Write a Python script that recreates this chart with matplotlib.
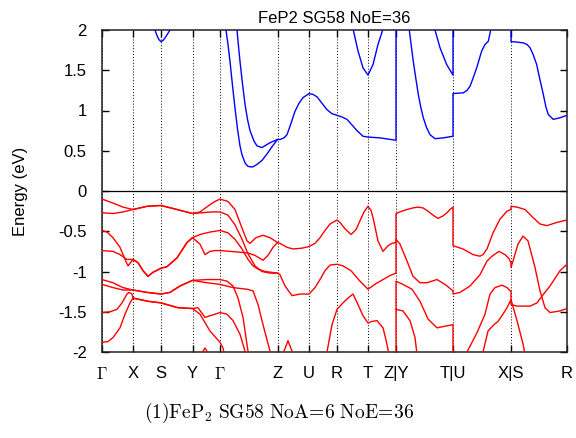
import matplotlib
matplotlib.use("Agg")
import matplotlib.pyplot as plt

plt.rcParams['mathtext.fontset'] = 'cm'
plt.rcParams['font.family'] = ['Liberation Sans', 'DejaVu Sans']

# high-symmetry positions (path coordinate) and labels
kpts = [0, 31, 59, 90.5, 118, 175.5, 207, 235, 266, 294, 351, 409, 465]
klabels = [r'$\Gamma$', 'X', 'S', 'Y', r'$\Gamma$', 'Z', 'U', 'R', 'T', 'Z|Y', 'T|U', 'X|S', 'R']
yticks = [2, 1.5, 1, 0.5, 0, -0.5, -1, -1.5, -2]
ylabels = ['2', '1.5', '1', '0.5', '0', '-0.5', '-1', '-1.5', '-2']

# ---- valence bands (red) ----
v1_k = [0, 11, 21, 31, 45, 59, 75, 90.5, 98, 108, 113, 118, 126, 133, 140, 145, 148, 154, 161, 168, 175.5,
        178, 185, 191, 200, 207, 213, 218, 223, 228, 235, 238, 243, 249, 254, 258, 262, 266, 269, 271, 276, 281, 286, 290, 294,
        294, 300, 305, 311, 316, 321, 326, 331, 336, 341, 345, 348, 351,
        351, 361, 371, 378, 381, 385, 391, 398, 405, 409,
        409, 415, 423, 431, 438, 445, 455, 465]
v1_e = [-0.10, -0.15, -0.20, -0.23, -0.19, -0.18, -0.23, -0.28, -0.26, -0.17, -0.13, -0.10, -0.13, -0.23, -0.46, -0.62, -0.65, -0.58, -0.55, -0.58, -0.64,
        -0.65, -0.70, -0.72, -0.71, -0.69, -0.65, -0.58, -0.49, -0.41, -0.36, -0.39, -0.47, -0.54, -0.48, -0.37, -0.26, -0.19, -0.24, -0.33, -0.62, -0.75, -0.68, -0.65, -0.64,
        -0.28, -0.25, -0.23, -0.21, -0.20, -0.21, -0.25, -0.30, -0.34, -0.31, -0.27, -0.23, -0.20,
        -0.68, -0.72, -0.79, -0.81, -0.79, -0.72, -0.52, -0.35, -0.25, -0.23,
        -0.19, -0.20, -0.23, -0.33, -0.41, -0.43, -0.39, -0.36]

v2_k = [0, 11, 21, 31, 45, 59, 75, 90.5, 100, 110, 118, 126, 133, 140, 146, 153, 160, 168, 175.5,
        178, 183, 190, 198, 207, 213, 218, 223, 228, 235, 241, 249, 258, 266, 274, 281, 288, 294,
        294, 298, 305, 311, 318, 325, 335, 343, 351,
        351, 358, 368, 378, 385, 390, 397, 403, 407, 409,
        409, 411, 416, 421, 426, 433, 438, 443, 448, 458, 465]
v2_e = [-0.27, -0.28, -0.26, -0.23, -0.19, -0.18, -0.23, -0.28, -0.27, -0.26, -0.26, -0.30, -0.42, -0.60, -0.78, -0.93, -1.00, -1.02, -1.02,
        -1.04, -1.18, -1.30, -1.28, -1.28, -1.20, -1.10, -0.99, -0.92, -0.91, -0.93, -0.99, -1.12, -1.22, -1.15, -1.10, -1.05, -1.02,
        -0.60, -0.66, -0.87, -1.06, -1.14, -1.14, -1.10, -1.16, -1.24,
        -1.28, -1.26, -1.18, -1.04, -0.87, -0.81, -0.75, -0.79, -0.84, -0.89,
        -0.95, -0.87, -0.66, -0.56, -0.62, -0.95, -1.24, -1.45, -1.51, -1.49, -1.46]

v3_k = [0, 5, 11, 18, 23, 26, 31, 36, 41, 46, 51, 59, 65, 75, 85, 90.5, 98, 108, 118,
        126, 133, 140, 146, 151, 156, 163, 175.5]
v3_e = [-0.49, -0.51, -0.58, -0.70, -0.85, -0.93, -0.85, -0.89, -0.99, -1.06, -1.01, -0.96, -0.94, -0.83, -0.64, -0.58, -0.54, -0.51, -0.49,
        -0.52, -0.60, -0.72, -0.85, -0.93, -0.97, -1.00, -1.02]

v4_k = [0, 11, 18, 25, 31, 36, 41, 46, 51, 59, 65, 75, 85, 90.5, 98, 103, 108, 113, 118,
        128, 138, 146, 153, 161, 166, 171, 175.5]
v4_e = [-0.74, -0.75, -0.79, -0.85, -0.85, -0.89, -0.99, -1.06, -1.01, -0.96, -0.94, -0.83, -0.64, -0.58, -0.66, -0.79, -0.75, -0.74, -0.74,
        -0.75, -0.76, -0.77, -0.80, -0.86, -0.80, -0.70, -0.64]

v5_k = [0, 11, 21, 31, 45, 59, 68, 78, 90.5, 105, 118, 125, 131, 136, 141, 146, 148]
v5_e = [-1.10, -1.14, -1.20, -1.23, -1.26, -1.28, -1.26, -1.18, -1.11, -1.10, -1.10, -1.12, -1.18, -1.33, -1.57, -1.99, -2.15]

v6_k = [0, 11, 21, 31, 45, 59, 68, 78, 90.5, 105, 118, 131, 145, 151, 156, 161, 168, 170]
v6_e = [-1.16, -1.20, -1.23, -1.23, -1.26, -1.28, -1.26, -1.18, -1.11, -1.14, -1.16, -1.20, -1.22, -1.24, -1.41, -1.66, -1.99, -2.15]

v7_k = [0, 8, 15, 20, 25, 27, 30, 31, 46, 59, 76, 90.5, 96, 103, 108, 118, 125, 131, 138, 143, 145]
v7_e = [-1.51, -1.50, -1.47, -1.39, -1.28, -1.26, -1.28, -1.33, -1.37, -1.39, -1.45, -1.46, -1.45, -1.57, -1.55, -1.51, -1.53, -1.61, -1.78, -1.99, -2.15]

v8_k = [0, 6, 11, 18, 23, 28, 31, 46, 59, 76, 90.5, 98, 108, 118, 121, 124]
v8_e = [-1.88, -1.87, -1.82, -1.70, -1.53, -1.39, -1.33, -1.37, -1.39, -1.45, -1.46, -1.53, -1.74, -1.88, -1.95, -2.15]

hump1_k = [99.5, 101, 103, 105, 106.5]
hump1_e = [-2.15, -1.99, -1.95, -1.99, -2.15]
hump2_k = [180, 182, 186, 190, 192]
hump2_e = [-2.15, -1.99, -1.86, -1.99, -2.15]

v9_k = [223, 225, 230, 235, 241, 246, 251, 256, 261, 266, 270, 275, 281, 284, 286.5, 287.5]
v9_e = [-2.15, -2.0, -1.66, -1.47, -1.39, -1.33, -1.28, -1.41, -1.55, -1.64, -1.62, -1.61, -1.70, -1.85, -2.0, -2.15]

v10_k = [294, 294, 301, 310, 318, 326, 335, 343, 351, 351]
v10_e = [-2.15, -1.12, -1.16, -1.22, -1.37, -1.59, -1.70, -1.68, -1.66, -2.15]

v11_k = [294, 301, 308, 313, 315, 316]
v11_e = [-1.47, -1.49, -1.61, -1.82, -2.03, -2.15]

v12_k = [364, 365, 375, 383, 388, 393, 400, 405, 409, 409, 415, 421, 423, 424]
v12_e = [-2.15, -2.0, -1.76, -1.53, -1.28, -1.20, -1.17, -1.20, -1.25, -1.35, -1.61, -1.90, -2.03, -2.15]

v13_k = [380, 381, 386, 392, 396, 401, 405, 409, 409, 415, 428, 435, 441, 448, 458, 465]
v13_e = [-2.15, -2.0, -1.74, -1.66, -1.62, -1.53, -1.45, -1.35, -1.41, -1.43, -1.43, -1.39, -1.29, -1.18, -0.99, -0.91]

# ---- conduction bands (blue) ----
c1_k = [123, 124, 126, 128, 130.5, 133, 135.5, 138, 140, 143, 145.5, 148, 151, 155, 160, 165, 170, 175.5,
        178, 182, 185, 189, 193, 197, 201, 207, 211, 215, 220, 225, 230, 235, 240, 245, 250, 255, 261, 266, 278, 294, 294]
c1_e = [2.1, 2.0, 1.82, 1.61, 1.31, 1.03, 0.77, 0.56, 0.45, 0.35, 0.31, 0.30, 0.30, 0.33, 0.38, 0.46, 0.55, 0.64,
        0.64, 0.66, 0.70, 0.84, 0.99, 1.09, 1.16, 1.21, 1.20, 1.17, 1.09, 1.01, 0.96, 0.94, 0.92, 0.89, 0.82, 0.75, 0.68, 0.67, 0.66, 0.63, 2.1]

c2_k = [134, 135, 136.5, 138, 140.5, 143, 145.5, 148, 152, 155, 160, 168, 175.5]
c2_e = [2.1, 2.0, 1.80, 1.61, 1.33, 1.08, 0.89, 0.75, 0.62, 0.56, 0.54, 0.60, 0.64]

c3_k = [52.5, 53, 55, 57, 59, 61, 63, 65.5, 68, 68.5]
c3_e = [2.1, 2.0, 1.93, 1.88, 1.855, 1.87, 1.90, 1.95, 2.0, 2.1]

c4_k = [251, 251.3, 256, 261, 266, 271, 276, 280.7, 281]
c4_e = [2.1, 2.0, 1.74, 1.53, 1.44, 1.57, 1.82, 2.0, 2.1]

c5_k = [306.5, 307.3, 309.3, 311.3, 313.8, 316.3, 318.8, 321.3, 324.5, 328, 333, 341.3, 351,
        351, 361.3, 365, 368, 371, 374.7, 379.7, 383, 386.3, 388.7, 389]
c5_e = [2.1, 2.0, 1.80, 1.61, 1.40, 1.20, 1.04, 0.91, 0.79, 0.70, 0.65, 0.66, 0.68,
        1.21, 1.22, 1.25, 1.30, 1.40, 1.53, 1.74, 1.82, 1.86, 2.0, 2.1]

c6_k = [332.5, 333, 338, 344.7, 351, 351]
c6_e = [2.1, 2.0, 1.78, 1.57, 1.44, 2.1]

c7_k = [409, 409, 415, 421.3, 425, 428, 431, 434.7, 438, 441.3, 444, 446.3, 451.3, 458, 465]
c7_e = [2.1, 1.855, 1.85, 1.84, 1.82, 1.78, 1.70, 1.57, 1.38, 1.20, 1.04, 0.95, 0.89, 0.91, 0.94]

valence = [(v1_k, v1_e), (v2_k, v2_e), (v3_k, v3_e), (v4_k, v4_e), (v5_k, v5_e), (v6_k, v6_e),
           (v7_k, v7_e), (v8_k, v8_e), (hump1_k, hump1_e), (hump2_k, hump2_e), (v9_k, v9_e),
           (v10_k, v10_e), (v11_k, v11_e), (v12_k, v12_e), (v13_k, v13_e)]
conduction = [(c1_k, c1_e), (c2_k, c2_e), (c3_k, c3_e), (c4_k, c4_e), (c5_k, c5_e), (c6_k, c6_e), (c7_k, c7_e)]

fig = plt.figure(figsize=(5.76, 4.38), dpi=100)
ax = fig.add_axes([102/576, 1 - 352/438, (567 - 102)/576, (352 - 30)/438])

for kp in kpts:
    ax.axvline(kp, color='black', lw=0.7, ls=(0, (1, 2)), zorder=1)
ax.axhline(0, color='black', lw=0.9, zorder=1)

for k, e in valence:
    ax.plot(k, e, color='#ff0000', lw=1.0, zorder=3)
for k, e in conduction:
    ax.plot(k, e, color='#0000ff', lw=1.0, zorder=3)

ax.set_xlim(kpts[0], kpts[-1])
ax.set_ylim(-2, 2)
ax.set_xticks(kpts)
ax.set_xticklabels(klabels, fontsize=12)
ax.set_yticks(yticks)
ax.set_yticklabels(ylabels, fontsize=12)
ax.tick_params(axis='x', direction='in', length=5, width=1, top=True, pad=10)
ax.tick_params(axis='y', direction='in', length=5, width=1, right=True, pad=11)
for s in ax.spines.values():
    s.set_linewidth(1.1)
    s.set_color('#222222')

ax.set_title('FeP2 SG58 NoE=36', fontsize=12, pad=5)
ax.set_ylabel('Energy (eV)', fontsize=12)
ax.yaxis.set_label_coords(-(102 - 28)/465, 0.5)

fig.text(0.485, 1 - 413/438, r'$\mathrm{(1)FeP_2\ SG58\ NoA\!=\!6\ NoE\!=\!36}$',
         ha='center', va='center', fontsize=14)

fig.savefig('out.png', dpi=100)
